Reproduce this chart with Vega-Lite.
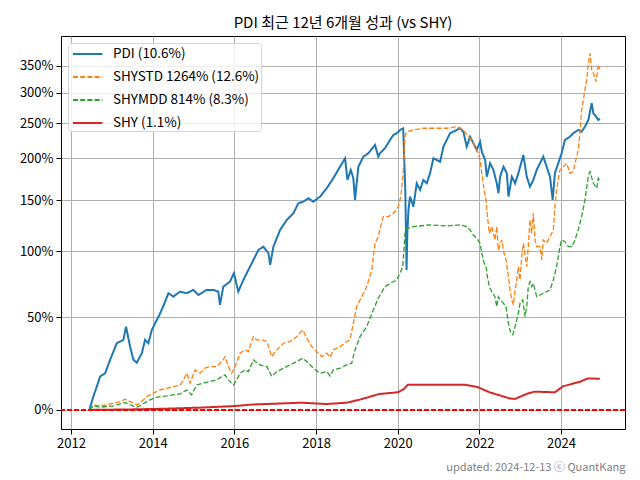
{
  "$schema": "https://vega.github.io/schema/vega-lite/v6.json",
  "width": 564,
  "height": 393,
  "autosize": {"type": "none"},
  "padding": {"left": 61, "top": 36, "right": 15, "bottom": 51},
  "title": {"text": "PDI 최근 12년 6개월 성과 (vs SHY)", "fontSize": 15, "fontWeight": "normal", "color": "black", "offset": 5, "anchor": "middle", "font": "Noto Sans CJK KR"},
  "config": {
    "font": "Noto Sans CJK KR",
    "view": {"stroke": "black", "strokeWidth": 1},
    "axis": {"gridColor": "#b0b0b0", "gridWidth": 1, "domain": false, "tickColor": "black", "tickWidth": 1, "tickSize": 5, "labelFontSize": 13, "labelColor": "black", "labelPadding": 3, "labelFont": "Noto Sans CJK KR"},
    "legend": {"symbolStrokeWidth": 2}
  },
  "data": {"values": [
    {"s":"P","d":"2012-06-13","v":1.0},{"s":"P","d":"2012-07-18","v":1.06},{"s":"P","d":"2012-08-18","v":1.107},{"s":"P","d":"2012-09-17","v":1.157},{"s":"P","d":"2012-11-01","v":1.174},{"s":"P","d":"2012-12-15","v":1.244},{"s":"P","d":"2013-01-20","v":1.3},{"s":"P","d":"2013-02-13","v":1.338},{"s":"P","d":"2013-03-14","v":1.348},{"s":"P","d":"2013-04-13","v":1.358},{"s":"P","d":"2013-05-07","v":1.439},{"s":"P","d":"2013-06-12","v":1.318},{"s":"P","d":"2013-07-12","v":1.244},{"s":"P","d":"2013-08-11","v":1.229},{"s":"P","d":"2013-09-25","v":1.281},{"s":"P","d":"2013-10-24","v":1.358},{"s":"P","d":"2013-11-23","v":1.338},{"s":"P","d":"2013-12-23","v":1.418},{"s":"P","d":"2014-02-06","v":1.481},{"s":"P","d":"2014-03-08","v":1.525},{"s":"P","d":"2014-04-22","v":1.605},{"s":"P","d":"2014-05-21","v":1.665},{"s":"P","d":"2014-07-04","v":1.64},{"s":"P","d":"2014-09-02","v":1.676},{"s":"P","d":"2014-11-01","v":1.665},{"s":"P","d":"2014-12-30","v":1.689},{"s":"P","d":"2015-02-13","v":1.652},{"s":"P","d":"2015-04-28","v":1.689},{"s":"P","d":"2015-06-26","v":1.689},{"s":"P","d":"2015-08-10","v":1.676},{"s":"P","d":"2015-08-25","v":1.582},{"s":"P","d":"2015-09-24","v":1.713},{"s":"P","d":"2015-11-22","v":1.751},{"s":"P","d":"2015-12-28","v":1.817},{"s":"P","d":"2016-02-05","v":1.676},{"s":"P","d":"2016-03-21","v":1.764},{"s":"P","d":"2016-05-05","v":1.843},{"s":"P","d":"2016-06-19","v":1.925},{"s":"P","d":"2016-08-03","v":2.011},{"s":"P","d":"2016-09-17","v":2.04},{"s":"P","d":"2016-11-01","v":1.982},{"s":"P","d":"2016-11-16","v":1.884},{"s":"P","d":"2016-12-15","v":2.04},{"s":"P","d":"2017-02-13","v":2.195},{"s":"P","d":"2017-04-14","v":2.293},{"s":"P","d":"2017-06-12","v":2.361},{"s":"P","d":"2017-07-26","v":2.466},{"s":"P","d":"2017-09-09","v":2.483},{"s":"P","d":"2017-10-24","v":2.521},{"s":"P","d":"2017-12-07","v":2.483},{"s":"P","d":"2018-02-05","v":2.538},{"s":"P","d":"2018-04-06","v":2.633},{"s":"P","d":"2018-06-04","v":2.751},{"s":"P","d":"2018-08-03","v":2.893},{"s":"P","d":"2018-09-17","v":3.001},{"s":"P","d":"2018-10-08","v":2.73},{"s":"P","d":"2018-11-07","v":2.852},{"s":"P","d":"2018-11-30","v":2.751},{"s":"P","d":"2018-12-15","v":2.502},{"s":"P","d":"2019-01-14","v":2.893},{"s":"P","d":"2019-02-28","v":3.023},{"s":"P","d":"2019-04-13","v":3.068},{"s":"P","d":"2019-06-12","v":3.181},{"s":"P","d":"2019-07-11","v":3.023},{"s":"P","d":"2019-07-26","v":3.068},{"s":"P","d":"2019-09-09","v":3.136},{"s":"P","d":"2019-10-24","v":3.251},{"s":"P","d":"2019-11-23","v":3.323},{"s":"P","d":"2019-12-23","v":3.348},{"s":"P","d":"2020-01-22","v":3.396},{"s":"P","d":"2020-02-19","v":3.42},{"s":"P","d":"2020-02-28","v":3.0},{"s":"P","d":"2020-03-09","v":2.6},{"s":"P","d":"2020-03-20","v":1.843},{"s":"P","d":"2020-03-27","v":2.166},{"s":"P","d":"2020-04-06","v":2.395},{"s":"P","d":"2020-04-20","v":2.538},{"s":"P","d":"2020-05-20","v":2.43},{"s":"P","d":"2020-06-19","v":2.691},{"s":"P","d":"2020-07-19","v":2.614},{"s":"P","d":"2020-08-17","v":2.73},{"s":"P","d":"2020-09-17","v":2.691},{"s":"P","d":"2020-10-16","v":2.811},{"s":"P","d":"2020-11-15","v":3.001},{"s":"P","d":"2020-12-15","v":2.979},{"s":"P","d":"2021-01-14","v":2.957},{"s":"P","d":"2021-02-13","v":3.158},{"s":"P","d":"2021-03-14","v":3.251},{"s":"P","d":"2021-04-13","v":3.348},{"s":"P","d":"2021-05-12","v":3.371},{"s":"P","d":"2021-06-12","v":3.396},{"s":"P","d":"2021-07-11","v":3.422},{"s":"P","d":"2021-08-10","v":3.371},{"s":"P","d":"2021-09-09","v":3.158},{"s":"P","d":"2021-10-09","v":3.298},{"s":"P","d":"2021-11-08","v":3.205},{"s":"P","d":"2021-12-08","v":3.112},{"s":"P","d":"2022-01-07","v":3.227},{"s":"P","d":"2022-01-22","v":3.089},{"s":"P","d":"2022-02-21","v":2.979},{"s":"P","d":"2022-03-08","v":2.77},{"s":"P","d":"2022-04-06","v":2.937},{"s":"P","d":"2022-05-06","v":2.852},{"s":"P","d":"2022-06-05","v":2.691},{"s":"P","d":"2022-06-20","v":2.576},{"s":"P","d":"2022-07-05","v":2.77},{"s":"P","d":"2022-08-04","v":2.893},{"s":"P","d":"2022-09-03","v":2.811},{"s":"P","d":"2022-09-18","v":2.538},{"s":"P","d":"2022-10-18","v":2.77},{"s":"P","d":"2022-11-16","v":2.691},{"s":"P","d":"2022-12-15","v":2.811},{"s":"P","d":"2023-01-29","v":3.045},{"s":"P","d":"2023-02-28","v":2.77},{"s":"P","d":"2023-03-29","v":2.651},{"s":"P","d":"2023-04-28","v":2.73},{"s":"P","d":"2023-05-28","v":2.852},{"s":"P","d":"2023-07-26","v":3.023},{"s":"P","d":"2023-08-25","v":2.893},{"s":"P","d":"2023-09-24","v":2.77},{"s":"P","d":"2023-10-18","v":2.502},{"s":"P","d":"2023-11-07","v":2.811},{"s":"P","d":"2023-12-07","v":2.937},{"s":"P","d":"2024-01-06","v":3.068},{"s":"P","d":"2024-02-05","v":3.251},{"s":"P","d":"2024-03-20","v":3.298},{"s":"P","d":"2024-04-19","v":3.348},{"s":"P","d":"2024-06-03","v":3.396},{"s":"P","d":"2024-07-03","v":3.371},{"s":"P","d":"2024-08-02","v":3.446},{"s":"P","d":"2024-09-01","v":3.548},{"s":"P","d":"2024-10-01","v":3.817},{"s":"P","d":"2024-10-16","v":3.653},{"s":"P","d":"2024-11-09","v":3.6},{"s":"P","d":"2024-11-29","v":3.548},{"s":"P","d":"2024-12-13","v":3.572},
    {"s":"S","d":"2012-06-13","v":1.0},{"s":"S","d":"2012-07-18","v":1.022},{"s":"S","d":"2012-09-16","v":1.018},{"s":"S","d":"2012-11-15","v":1.022},{"s":"S","d":"2013-01-14","v":1.03},{"s":"S","d":"2013-03-14","v":1.037},{"s":"S","d":"2013-04-28","v":1.048},{"s":"S","d":"2013-06-12","v":1.037},{"s":"S","d":"2013-08-11","v":1.022},{"s":"S","d":"2013-09-09","v":1.03},{"s":"S","d":"2013-11-08","v":1.06},{"s":"S","d":"2014-01-06","v":1.076},{"s":"S","d":"2014-03-07","v":1.091},{"s":"S","d":"2014-05-06","v":1.099},{"s":"S","d":"2014-07-04","v":1.107},{"s":"S","d":"2014-09-02","v":1.115},{"s":"S","d":"2014-10-02","v":1.14},{"s":"S","d":"2014-11-01","v":1.174},{"s":"S","d":"2014-12-01","v":1.124},{"s":"S","d":"2015-01-14","v":1.191},{"s":"S","d":"2015-02-28","v":1.174},{"s":"S","d":"2015-04-13","v":1.2},{"s":"S","d":"2015-05-28","v":1.208},{"s":"S","d":"2015-07-27","v":1.208},{"s":"S","d":"2015-09-10","v":1.235},{"s":"S","d":"2015-10-10","v":1.262},{"s":"S","d":"2015-11-08","v":1.208},{"s":"S","d":"2015-12-08","v":1.174},{"s":"S","d":"2016-01-07","v":1.208},{"s":"S","d":"2016-02-21","v":1.281},{"s":"S","d":"2016-04-05","v":1.3},{"s":"S","d":"2016-05-05","v":1.29},{"s":"S","d":"2016-06-19","v":1.377},{"s":"S","d":"2016-07-19","v":1.358},{"s":"S","d":"2016-09-02","v":1.358},{"s":"S","d":"2016-10-17","v":1.348},{"s":"S","d":"2016-12-01","v":1.262},{"s":"S","d":"2017-01-14","v":1.3},{"s":"S","d":"2017-03-15","v":1.338},{"s":"S","d":"2017-05-14","v":1.348},{"s":"S","d":"2017-07-12","v":1.377},{"s":"S","d":"2017-09-03","v":1.418},{"s":"S","d":"2017-10-09","v":1.368},{"s":"S","d":"2017-11-23","v":1.318},{"s":"S","d":"2018-01-07","v":1.29},{"s":"S","d":"2018-02-21","v":1.262},{"s":"S","d":"2018-04-07","v":1.281},{"s":"S","d":"2018-05-06","v":1.259},{"s":"S","d":"2018-06-04","v":1.3},{"s":"S","d":"2018-08-03","v":1.318},{"s":"S","d":"2018-10-02","v":1.348},{"s":"S","d":"2018-10-31","v":1.358},{"s":"S","d":"2018-11-30","v":1.46},{"s":"S","d":"2018-12-30","v":1.57},{"s":"S","d":"2019-01-29","v":1.617},{"s":"S","d":"2019-03-30","v":1.713},{"s":"S","d":"2019-05-14","v":1.843},{"s":"S","d":"2019-06-12","v":2.071},{"s":"S","d":"2019-07-11","v":2.131},{"s":"S","d":"2019-07-26","v":2.2},{"s":"S","d":"2019-08-25","v":2.326},{"s":"S","d":"2019-10-09","v":2.326},{"s":"S","d":"2019-11-23","v":2.361},{"s":"S","d":"2020-01-07","v":2.43},{"s":"S","d":"2020-01-28","v":2.538},{"s":"S","d":"2020-02-14","v":2.73},{"s":"S","d":"2020-02-26","v":2.979},{"s":"S","d":"2020-03-06","v":3.298},{"s":"S","d":"2020-03-21","v":3.371},{"s":"S","d":"2020-05-20","v":3.396},{"s":"S","d":"2020-08-17","v":3.422},{"s":"S","d":"2020-11-15","v":3.422},{"s":"S","d":"2021-03-14","v":3.422},{"s":"S","d":"2021-06-12","v":3.446},{"s":"S","d":"2021-08-10","v":3.396},{"s":"S","d":"2021-09-24","v":3.298},{"s":"S","d":"2021-10-24","v":3.251},{"s":"S","d":"2021-11-23","v":3.158},{"s":"S","d":"2021-12-22","v":3.068},{"s":"S","d":"2022-01-07","v":2.979},{"s":"S","d":"2022-01-22","v":2.811},{"s":"S","d":"2022-02-12","v":2.614},{"s":"S","d":"2022-03-01","v":2.502},{"s":"S","d":"2022-03-13","v":2.326},{"s":"S","d":"2022-03-31","v":2.162},{"s":"S","d":"2022-04-21","v":2.227},{"s":"S","d":"2022-05-20","v":2.101},{"s":"S","d":"2022-06-05","v":2.227},{"s":"S","d":"2022-06-19","v":2.011},{"s":"S","d":"2022-07-19","v":2.101},{"s":"S","d":"2022-08-09","v":1.982},{"s":"S","d":"2022-08-27","v":1.925},{"s":"S","d":"2022-09-17","v":1.79},{"s":"S","d":"2022-10-02","v":1.689},{"s":"S","d":"2022-10-17","v":1.617},{"s":"S","d":"2022-10-31","v":1.582},{"s":"S","d":"2022-11-16","v":1.689},{"s":"S","d":"2022-12-01","v":1.764},{"s":"S","d":"2022-12-15","v":1.87},{"s":"S","d":"2022-12-30","v":1.764},{"s":"S","d":"2023-01-14","v":1.954},{"s":"S","d":"2023-01-29","v":2.071},{"s":"S","d":"2023-02-28","v":1.87},{"s":"S","d":"2023-03-14","v":2.04},{"s":"S","d":"2023-03-29","v":2.293},{"s":"S","d":"2023-04-13","v":2.162},{"s":"S","d":"2023-04-28","v":2.361},{"s":"S","d":"2023-05-13","v":2.101},{"s":"S","d":"2023-05-28","v":2.04},{"s":"S","d":"2023-06-27","v":2.04},{"s":"S","d":"2023-07-12","v":1.925},{"s":"S","d":"2023-07-26","v":2.101},{"s":"S","d":"2023-08-25","v":2.071},{"s":"S","d":"2023-09-24","v":2.131},{"s":"S","d":"2023-10-24","v":2.195},{"s":"S","d":"2023-11-07","v":2.43},{"s":"S","d":"2023-11-22","v":2.614},{"s":"S","d":"2023-12-22","v":2.852},{"s":"S","d":"2024-01-21","v":2.893},{"s":"S","d":"2024-02-20","v":2.937},{"s":"S","d":"2024-03-21","v":2.811},{"s":"S","d":"2024-04-19","v":2.831},{"s":"S","d":"2024-05-05","v":2.937},{"s":"S","d":"2024-06-03","v":3.112},{"s":"S","d":"2024-06-18","v":3.348},{"s":"S","d":"2024-07-03","v":3.706},{"s":"S","d":"2024-07-18","v":3.872},{"s":"S","d":"2024-08-17","v":4.225},{"s":"S","d":"2024-09-01","v":4.545},{"s":"S","d":"2024-09-16","v":4.748},{"s":"S","d":"2024-10-01","v":4.414},{"s":"S","d":"2024-10-16","v":4.351},{"s":"S","d":"2024-11-09","v":4.194},{"s":"S","d":"2024-11-29","v":4.508},{"s":"S","d":"2024-12-13","v":4.43},
    {"s":"M","d":"2012-06-13","v":1.0},{"s":"M","d":"2012-07-18","v":1.018},{"s":"M","d":"2012-09-16","v":1.012},{"s":"M","d":"2012-11-15","v":1.015},{"s":"M","d":"2013-01-14","v":1.018},{"s":"M","d":"2013-03-14","v":1.027},{"s":"M","d":"2013-04-28","v":1.033},{"s":"M","d":"2013-06-12","v":1.022},{"s":"M","d":"2013-08-11","v":1.012},{"s":"M","d":"2013-09-09","v":1.018},{"s":"M","d":"2013-11-08","v":1.037},{"s":"M","d":"2014-01-06","v":1.052},{"s":"M","d":"2014-03-07","v":1.06},{"s":"M","d":"2014-05-06","v":1.063},{"s":"M","d":"2014-07-04","v":1.068},{"s":"M","d":"2014-09-02","v":1.072},{"s":"M","d":"2014-11-01","v":1.091},{"s":"M","d":"2014-12-15","v":1.068},{"s":"M","d":"2015-01-29","v":1.115},{"s":"M","d":"2015-03-29","v":1.124},{"s":"M","d":"2015-05-28","v":1.132},{"s":"M","d":"2015-07-27","v":1.14},{"s":"M","d":"2015-09-10","v":1.157},{"s":"M","d":"2015-10-10","v":1.165},{"s":"M","d":"2015-11-08","v":1.14},{"s":"M","d":"2015-12-23","v":1.115},{"s":"M","d":"2016-01-22","v":1.14},{"s":"M","d":"2016-02-21","v":1.174},{"s":"M","d":"2016-04-05","v":1.191},{"s":"M","d":"2016-05-05","v":1.182},{"s":"M","d":"2016-06-19","v":1.244},{"s":"M","d":"2016-08-18","v":1.217},{"s":"M","d":"2016-10-17","v":1.208},{"s":"M","d":"2016-12-01","v":1.157},{"s":"M","d":"2017-01-14","v":1.182},{"s":"M","d":"2017-03-15","v":1.2},{"s":"M","d":"2017-05-14","v":1.217},{"s":"M","d":"2017-07-12","v":1.235},{"s":"M","d":"2017-09-03","v":1.253},{"s":"M","d":"2017-10-09","v":1.235},{"s":"M","d":"2017-12-07","v":1.2},{"s":"M","d":"2018-02-05","v":1.174},{"s":"M","d":"2018-04-07","v":1.182},{"s":"M","d":"2018-05-06","v":1.16},{"s":"M","d":"2018-06-04","v":1.191},{"s":"M","d":"2018-08-03","v":1.2},{"s":"M","d":"2018-10-02","v":1.217},{"s":"M","d":"2018-11-15","v":1.226},{"s":"M","d":"2018-12-15","v":1.3},{"s":"M","d":"2019-01-29","v":1.377},{"s":"M","d":"2019-03-30","v":1.439},{"s":"M","d":"2019-05-28","v":1.548},{"s":"M","d":"2019-07-11","v":1.629},{"s":"M","d":"2019-07-26","v":1.65},{"s":"M","d":"2019-09-09","v":1.713},{"s":"M","d":"2019-10-24","v":1.738},{"s":"M","d":"2019-12-23","v":1.764},{"s":"M","d":"2020-01-22","v":1.817},{"s":"M","d":"2020-02-15","v":1.87},{"s":"M","d":"2020-02-26","v":2.011},{"s":"M","d":"2020-03-06","v":2.162},{"s":"M","d":"2020-03-21","v":2.208},{"s":"M","d":"2020-05-20","v":2.227},{"s":"M","d":"2020-10-16","v":2.244},{"s":"M","d":"2021-03-14","v":2.233},{"s":"M","d":"2021-07-11","v":2.244},{"s":"M","d":"2021-09-09","v":2.227},{"s":"M","d":"2021-10-09","v":2.195},{"s":"M","d":"2021-11-08","v":2.146},{"s":"M","d":"2021-12-08","v":2.115},{"s":"M","d":"2022-01-07","v":2.071},{"s":"M","d":"2022-01-22","v":1.982},{"s":"M","d":"2022-02-12","v":1.898},{"s":"M","d":"2022-03-01","v":1.87},{"s":"M","d":"2022-03-13","v":1.79},{"s":"M","d":"2022-03-31","v":1.713},{"s":"M","d":"2022-04-21","v":1.676},{"s":"M","d":"2022-05-20","v":1.64},{"s":"M","d":"2022-06-05","v":1.57},{"s":"M","d":"2022-06-19","v":1.64},{"s":"M","d":"2022-07-05","v":1.617},{"s":"M","d":"2022-08-04","v":1.593},{"s":"M","d":"2022-08-27","v":1.57},{"s":"M","d":"2022-09-17","v":1.46},{"s":"M","d":"2022-10-08","v":1.398},{"s":"M","d":"2022-10-26","v":1.388},{"s":"M","d":"2022-11-16","v":1.439},{"s":"M","d":"2022-12-15","v":1.525},{"s":"M","d":"2022-12-30","v":1.593},{"s":"M","d":"2023-01-23","v":1.617},{"s":"M","d":"2023-02-13","v":1.503},{"s":"M","d":"2023-02-28","v":1.57},{"s":"M","d":"2023-03-14","v":1.713},{"s":"M","d":"2023-03-29","v":1.751},{"s":"M","d":"2023-04-13","v":1.713},{"s":"M","d":"2023-04-28","v":1.738},{"s":"M","d":"2023-05-13","v":1.689},{"s":"M","d":"2023-05-28","v":1.64},{"s":"M","d":"2023-06-27","v":1.652},{"s":"M","d":"2023-07-26","v":1.665},{"s":"M","d":"2023-08-25","v":1.676},{"s":"M","d":"2023-09-24","v":1.689},{"s":"M","d":"2023-10-24","v":1.764},{"s":"M","d":"2023-11-22","v":1.87},{"s":"M","d":"2023-12-22","v":2.04},{"s":"M","d":"2024-01-06","v":2.101},{"s":"M","d":"2024-02-05","v":2.085},{"s":"M","d":"2024-03-06","v":2.04},{"s":"M","d":"2024-04-05","v":2.04},{"s":"M","d":"2024-05-05","v":2.101},{"s":"M","d":"2024-06-03","v":2.195},{"s":"M","d":"2024-07-03","v":2.326},{"s":"M","d":"2024-08-02","v":2.502},{"s":"M","d":"2024-09-01","v":2.77},{"s":"M","d":"2024-09-16","v":2.831},{"s":"M","d":"2024-10-16","v":2.691},{"s":"M","d":"2024-11-15","v":2.633},{"s":"M","d":"2024-11-29","v":2.751},{"s":"M","d":"2024-12-13","v":2.72},
    {"s":"Y","d":"2012-06-13","v":1.0},{"s":"Y","d":"2013-06-01","v":1.002},{"s":"Y","d":"2014-04-01","v":1.005},{"s":"Y","d":"2015-03-01","v":1.01},{"s":"Y","d":"2016-01-01","v":1.017},{"s":"Y","d":"2016-06-15","v":1.024},{"s":"Y","d":"2017-08-25","v":1.032},{"s":"Y","d":"2018-04-01","v":1.026},{"s":"Y","d":"2018-10-01","v":1.032},{"s":"Y","d":"2019-01-20","v":1.045},{"s":"Y","d":"2019-07-20","v":1.072},{"s":"Y","d":"2020-01-01","v":1.08},{"s":"Y","d":"2020-02-25","v":1.095},{"s":"Y","d":"2020-03-31","v":1.116},{"s":"Y","d":"2021-08-25","v":1.116},{"s":"Y","d":"2021-12-15","v":1.105},{"s":"Y","d":"2022-04-01","v":1.08},{"s":"Y","d":"2022-10-01","v":1.051},{"s":"Y","d":"2022-11-15","v":1.049},{"s":"Y","d":"2023-02-25","v":1.072},{"s":"Y","d":"2023-05-07","v":1.083},{"s":"Y","d":"2023-11-07","v":1.08},{"s":"Y","d":"2024-01-20","v":1.109},{"s":"Y","d":"2024-06-15","v":1.13},{"s":"Y","d":"2024-08-25","v":1.147},{"s":"Y","d":"2024-12-13","v":1.146}
  ]},
  "encoding": {
    "x": {"field": "d", "type": "temporal",
      "scale": {"domain": [{"year": 2011, "month": 10, "date": 3}, {"year": 2025, "month": 7, "date": 26}]},
      "axis": {"values": [{"year": 2012}, {"year": 2014}, {"year": 2016}, {"year": 2018}, {"year": 2020}, {"year": 2022}, {"year": 2024}], "format": "%Y", "labelFlush": false,
        "title": "updated: 2024-12-13 ⓒ QuantKang", "titleFontSize": 11, "titleColor": "#808080", "titleFontWeight": "normal", "titleAnchor": "end", "titleAlign": "right", "titleX": 564, "titleY": 41, "titleBaseline": "alphabetic", "titleFont": "Noto Sans CJK KR"}},
    "y": {"field": "v", "type": "quantitative",
      "scale": {"type": "log", "domain": [0.92, 5.12], "nice": false},
      "axis": {"values": [1, 1.5, 2, 2.5, 3, 3.5, 4, 4.5], "labelExpr": "format(datum.value - 1, '.0%')", "title": null}},
    "color": {"field": "s", "type": "nominal",
      "scale": {"domain": ["P", "S", "M", "Y"], "range": ["#1f77b4", "#ff7f0e", "#2ca02c", "#d62728"]},
      "legend": {"title": null, "orient": "top-left", "offset": 7, "padding": 1,
        "labelExpr": "datum.label == 'P' ? 'PDI (10.6%)' : datum.label == 'S' ? 'SHYSTD 1264% (12.6%)' : datum.label == 'M' ? 'SHYMDD 814% (8.3%)' : 'SHY (1.1%)'",
        "symbolType": "M-0.69,0H2.69", "symbolSize": 303, "labelFontSize": 13.5, "labelColor": "black", "labelOffset": 24, "rowPadding": 6,
        "strokeColor": "#d5d5d5", "fillColor": "rgba(255,255,255,0.8)", "cornerRadius": 3, "labelFont": "Noto Sans CJK KR"}},
    "strokeDash": {"field": "s", "type": "nominal",
      "scale": {"domain": ["P", "S", "M", "Y"], "range": [[1, 0], [5, 2.2], [5, 2.2], [1, 0]]},
      "legend": {"title": null}}
  },
  "layer": [
    {"transform": [{"filter": "datum.s == 'P'"}], "mark": {"type": "line", "strokeWidth": 2}},
    {"transform": [{"filter": "datum.s == 'S' || datum.s == 'M'"}], "mark": {"type": "line", "strokeWidth": 1.3}},
    {"transform": [{"filter": "datum.s == 'Y'"}], "mark": {"type": "line", "strokeWidth": 2}},
    {"mark": {"type": "rule", "color": "red", "strokeWidth": 1.1, "strokeDash": [5, 2]},
     "encoding": {"y": {"datum": 1, "type": "quantitative"}, "x": null, "color": null, "strokeDash": null}}
  ]
}
